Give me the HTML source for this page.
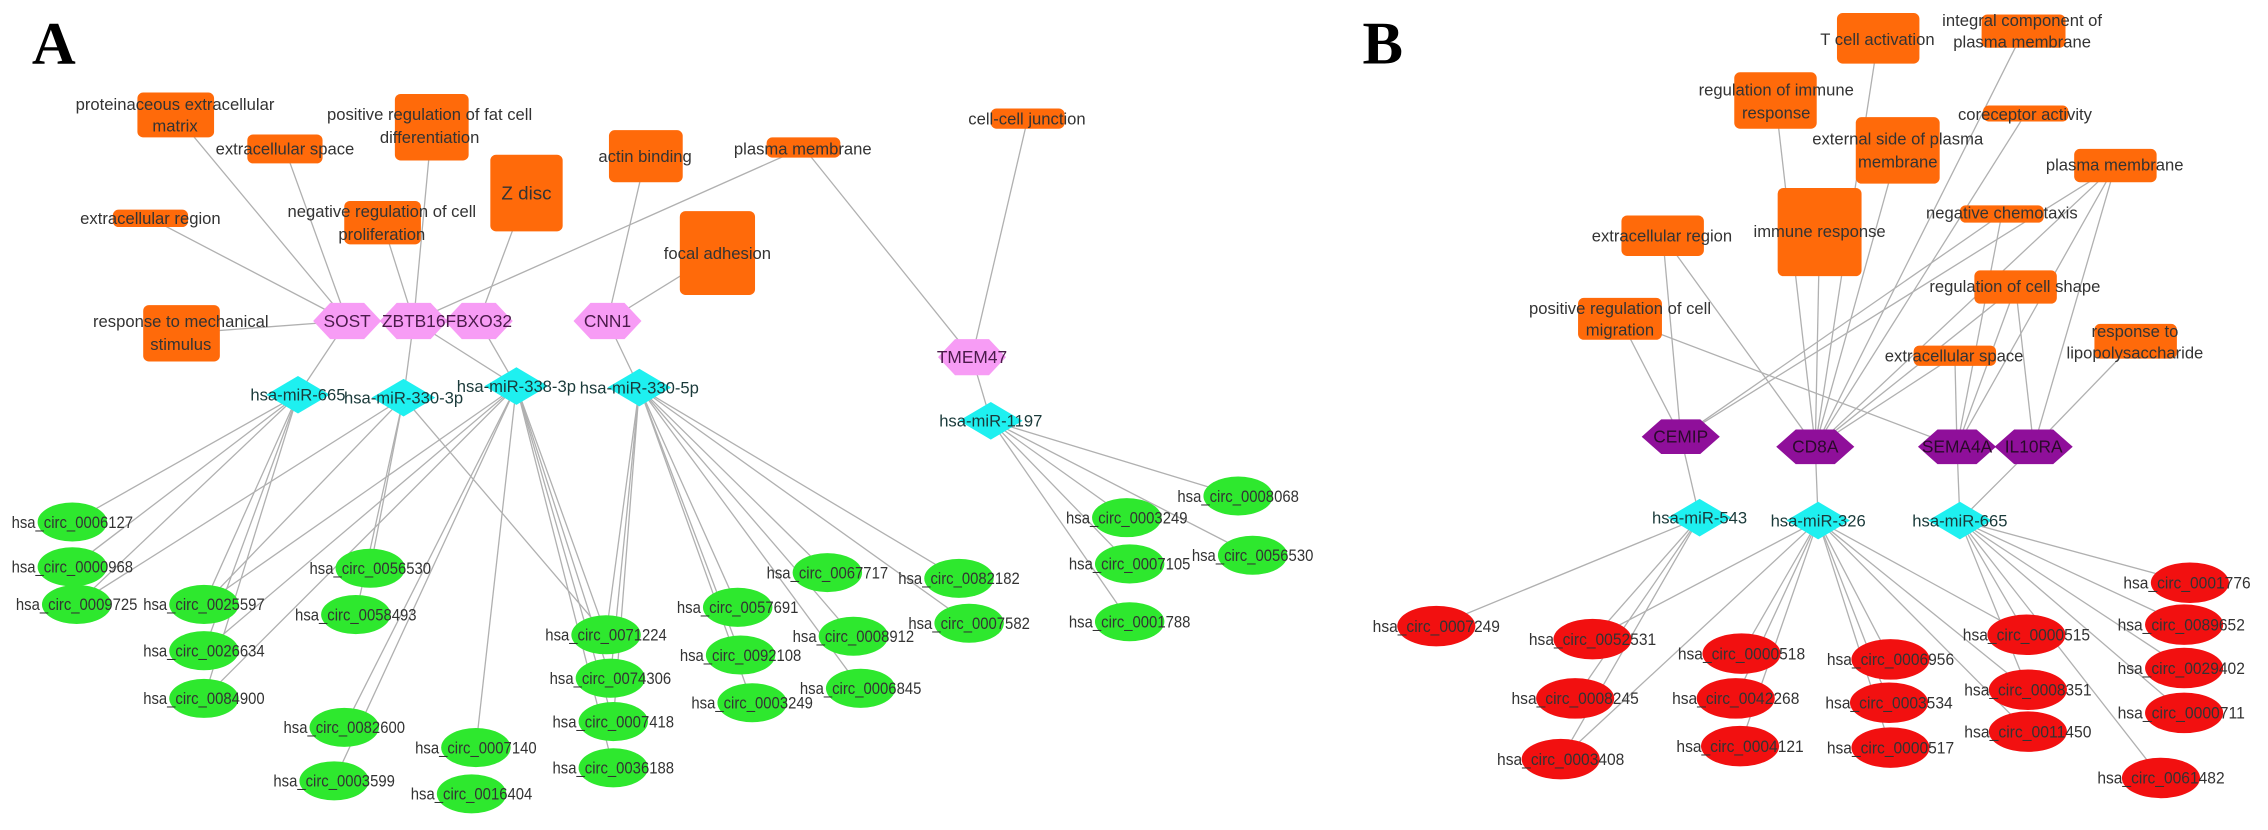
<!DOCTYPE html>
<html><head><meta charset="utf-8"><style>
html,body{margin:0;padding:0;background:#fff;}
svg{display:block;}
text{font-family:"Liberation Sans Narrow","Liberation Sans",sans-serif;fill:#333;}
.c{font-size:11.5px;text-anchor:middle;}
.g{font-size:11.5px;text-anchor:middle;}
.gn{font-size:12px;text-anchor:middle;fill:#4a1a4a;}
.gp{font-size:12px;text-anchor:middle;fill:#2a0a2a;}
.m{font-size:11.5px;text-anchor:middle;fill:#1a3a3a;}
.L{font-family:"Liberation Serif",serif;font-size:42px;font-weight:bold;fill:#000;}
</style></head><body>
<svg id="s" width="2268" height="830" viewBox="0 0 1568 574" preserveAspectRatio="none" xmlns="http://www.w3.org/2000/svg">
<g id="lines" stroke="#b0b0b0" stroke-width="0.9" fill="none"></g>
<g id="shapes"></g>
<g>
<text class="L" x="22" y="44">A</text>
<text class="L" x="942" y="44">B</text>

<text class="g" x="121" y="76">proteinaceous extracellular</text>
<text class="g" x="121" y="91">matrix</text>
<text class="g" x="197" y="107">extracellular space</text>
<text class="g" x="297" y="83">positive regulation of fat cell</text>
<text class="g" x="297" y="99">differentiation</text>
<text class="g" x="364" y="138" style="font-size:13px">Z disc</text>
<text class="g" x="446" y="112">actin binding</text>
<text class="g" x="555" y="107">plasma membrane</text>
<text class="g" x="710" y="86">cell-cell junction</text>
<text class="g" x="104" y="155">extracellular region</text>
<text class="g" x="264" y="150">negative regulation of cell</text>
<text class="g" x="264" y="166">proliferation</text>
<text class="g" x="496" y="179">focal adhesion</text>
<text class="g" x="125" y="226">response to mechanical</text>
<text class="g" x="125" y="242">stimulus</text>

<text class="gn" x="240" y="226">SOST</text>
<text class="gn" x="286" y="226">ZBTB16</text>
<text class="gn" x="331" y="226">FBXO32</text>
<text class="gn" x="420" y="226">CNN1</text>
<text class="gn" x="672" y="251">TMEM47</text>

<text class="m" x="206" y="277">hsa-miR-665</text>
<text class="m" x="279" y="279">hsa-miR-330-3p</text>
<text class="m" x="357" y="271">hsa-miR-338-3p</text>
<text class="m" x="442" y="272">hsa-miR-330-5p</text>
<text class="m" x="685" y="295">hsa-miR-1197</text>

<text class="c" x="50" y="365" textLength="84" lengthAdjust="spacingAndGlyphs">hsa_circ_0006127</text>
<text class="c" x="50" y="396" textLength="84" lengthAdjust="spacingAndGlyphs">hsa_circ_0000968</text>
<text class="c" x="53" y="422" textLength="84" lengthAdjust="spacingAndGlyphs">hsa_circ_0009725</text>
<text class="c" x="141" y="422" textLength="84" lengthAdjust="spacingAndGlyphs">hsa_circ_0025597</text>
<text class="c" x="141" y="454" textLength="84" lengthAdjust="spacingAndGlyphs">hsa_circ_0026634</text>
<text class="c" x="141" y="487" textLength="84" lengthAdjust="spacingAndGlyphs">hsa_circ_0084900</text>
<text class="c" x="256" y="397" textLength="84" lengthAdjust="spacingAndGlyphs">hsa_circ_0056530</text>
<text class="c" x="246" y="429" textLength="84" lengthAdjust="spacingAndGlyphs">hsa_circ_0058493</text>
<text class="c" x="238" y="507" textLength="84" lengthAdjust="spacingAndGlyphs">hsa_circ_0082600</text>
<text class="c" x="231" y="544" textLength="84" lengthAdjust="spacingAndGlyphs">hsa_circ_0003599</text>
<text class="c" x="329" y="521" textLength="84" lengthAdjust="spacingAndGlyphs">hsa_circ_0007140</text>
<text class="c" x="326" y="553" textLength="84" lengthAdjust="spacingAndGlyphs">hsa_circ_0016404</text>
<text class="c" x="419" y="443" textLength="84" lengthAdjust="spacingAndGlyphs">hsa_circ_0071224</text>
<text class="c" x="422" y="473" textLength="84" lengthAdjust="spacingAndGlyphs">hsa_circ_0074306</text>
<text class="c" x="424" y="503" textLength="84" lengthAdjust="spacingAndGlyphs">hsa_circ_0007418</text>
<text class="c" x="424" y="535" textLength="84" lengthAdjust="spacingAndGlyphs">hsa_circ_0036188</text>
<text class="c" x="510" y="424" textLength="84" lengthAdjust="spacingAndGlyphs">hsa_circ_0057691</text>
<text class="c" x="512" y="457" textLength="84" lengthAdjust="spacingAndGlyphs">hsa_circ_0092108</text>
<text class="c" x="520" y="490" textLength="84" lengthAdjust="spacingAndGlyphs">hsa_circ_0003249</text>
<text class="c" x="572" y="400" textLength="84" lengthAdjust="spacingAndGlyphs">hsa_circ_0067717</text>
<text class="c" x="590" y="444" textLength="84" lengthAdjust="spacingAndGlyphs">hsa_circ_0008912</text>
<text class="c" x="595" y="480" textLength="84" lengthAdjust="spacingAndGlyphs">hsa_circ_0006845</text>
<text class="c" x="663" y="404" textLength="84" lengthAdjust="spacingAndGlyphs">hsa_circ_0082182</text>
<text class="c" x="670" y="435" textLength="84" lengthAdjust="spacingAndGlyphs">hsa_circ_0007582</text>
<text class="c" x="856" y="347" textLength="84" lengthAdjust="spacingAndGlyphs">hsa_circ_0008068</text>
<text class="c" x="779" y="362" textLength="84" lengthAdjust="spacingAndGlyphs">hsa_circ_0003249</text>
<text class="c" x="866" y="388" textLength="84" lengthAdjust="spacingAndGlyphs">hsa_circ_0056530</text>
<text class="c" x="781" y="394" textLength="84" lengthAdjust="spacingAndGlyphs">hsa_circ_0007105</text>
<text class="c" x="781" y="434" textLength="84" lengthAdjust="spacingAndGlyphs">hsa_circ_0001788</text>

<text class="g" x="1298" y="31">T cell activation</text>
<text class="g" x="1398" y="18">integral component of</text>
<text class="g" x="1398" y="33">plasma membrane</text>
<text class="g" x="1228" y="66">regulation of immune</text>
<text class="g" x="1228" y="82">response</text>
<text class="g" x="1400" y="83">coreceptor activity</text>
<text class="g" x="1312" y="100">external side of plasma</text>
<text class="g" x="1312" y="116">membrane</text>
<text class="g" x="1462" y="118">plasma membrane</text>
<text class="g" x="1258" y="164">immune response</text>
<text class="g" x="1149" y="167">extracellular region</text>
<text class="g" x="1384" y="151">negative chemotaxis</text>
<text class="g" x="1393" y="202">regulation of cell shape</text>
<text class="g" x="1120" y="217">positive regulation of cell</text>
<text class="g" x="1120" y="232">migration</text>
<text class="g" x="1476" y="233">response to</text>
<text class="g" x="1476" y="248">lipopolysaccharide</text>
<text class="g" x="1351" y="250">extracellular space</text>

<text class="gp" x="1162" y="306">CEMIP</text>
<text class="gp" x="1255" y="313">CD8A</text>
<text class="gp" x="1353" y="313">SEMA4A</text>
<text class="gp" x="1406" y="313">IL10RA</text>

<text class="m" x="1175" y="362">hsa-miR-543</text>
<text class="m" x="1257" y="364">hsa-miR-326</text>
<text class="m" x="1355" y="364">hsa-miR-665</text>

<text class="c" x="993" y="437" textLength="88" lengthAdjust="spacingAndGlyphs">hsa_circ_0007249</text>
<text class="c" x="1101" y="446" textLength="88" lengthAdjust="spacingAndGlyphs">hsa_circ_0052531</text>
<text class="c" x="1089" y="487" textLength="88" lengthAdjust="spacingAndGlyphs">hsa_circ_0008245</text>
<text class="c" x="1079" y="529" textLength="88" lengthAdjust="spacingAndGlyphs">hsa_circ_0003408</text>
<text class="c" x="1204" y="456" textLength="88" lengthAdjust="spacingAndGlyphs">hsa_circ_0000518</text>
<text class="c" x="1200" y="487" textLength="88" lengthAdjust="spacingAndGlyphs">hsa_circ_0042268</text>
<text class="c" x="1203" y="520" textLength="88" lengthAdjust="spacingAndGlyphs">hsa_circ_0004121</text>
<text class="c" x="1307" y="460" textLength="88" lengthAdjust="spacingAndGlyphs">hsa_circ_0006956</text>
<text class="c" x="1306" y="490" textLength="88" lengthAdjust="spacingAndGlyphs">hsa_circ_0003534</text>
<text class="c" x="1307" y="521" textLength="88" lengthAdjust="spacingAndGlyphs">hsa_circ_0000517</text>
<text class="c" x="1401" y="443" textLength="88" lengthAdjust="spacingAndGlyphs">hsa_circ_0000515</text>
<text class="c" x="1402" y="481" textLength="88" lengthAdjust="spacingAndGlyphs">hsa_circ_0008351</text>
<text class="c" x="1402" y="510" textLength="88" lengthAdjust="spacingAndGlyphs">hsa_circ_0011450</text>
<text class="c" x="1494" y="542" textLength="88" lengthAdjust="spacingAndGlyphs">hsa_circ_0061482</text>
<text class="c" x="1512" y="407" textLength="88" lengthAdjust="spacingAndGlyphs">hsa_circ_0001776</text>
<text class="c" x="1508" y="436" textLength="88" lengthAdjust="spacingAndGlyphs">hsa_circ_0089652</text>
<text class="c" x="1508" y="466" textLength="88" lengthAdjust="spacingAndGlyphs">hsa_circ_0029402</text>
<text class="c" x="1508" y="497" textLength="88" lengthAdjust="spacingAndGlyphs">hsa_circ_0000711</text>
</g>
</svg>
<script>
var NS="http://www.w3.org/2000/svg";
var R={pem:[95,64,53,31],esp:[171,93,52,20],fat:[273,65,51,46],zdisc:[339,107,50,53],actin:[421,90,51,36],pmA:[530,95,51,14],ccj:[685,75,51,14],ereg:[78,145,52,12],neg:[238,139,53,30],focal:[470,146,52,58],resp:[99,211,53,39],
tcell:[1270,9,57,35],integ:[1370,10,58,23],regimm:[1199,50,57,39],corec:[1371,73,59,11],ext:[1283,81,58,46],pmB:[1434,103,57,23],immune:[1229,130,58,61],eregB:[1121,149,57,28],negchem:[1355,142,58,12],cellshape:[1365,187,57,23],migr:[1091,206,58,29],lps:[1448,224,57,24],espB:[1323,239,57,14]};
var H={SOST:[240,222],ZBTB16:[286,222],FBXO32:[331,222],CNN1:[420,222],TMEM47:[672,247]};
var P={CEMIP:[1162,302],CD8A:[1255,309],SEMA4A:[1353,309],IL10RA:[1406,309]};
var D={m665:[206,273],m3303:[279,275],m3383:[357,267],m3305:[442,268],m1197:[685,291],m543:[1175,358],m326:[1257,360],m665B:[1355,360]};
var G={a6127:[50,361],a968:[50,392],a9725:[53,418],a25597:[141,418],a26634:[141,450],a84900:[141,483],a56530:[256,393],a58493:[246,425],a82600:[238,503],a3599:[231,540],a7140:[329,517],a16404:[326,549],a71224:[419,439],a74306:[422,469],a7418:[424,499],a36188:[424,531],a57691:[510,420],a92108:[512,453],a3249:[520,486],a67717:[572,396],a8912:[590,440],a6845:[595,476],a82182:[663,400],a7582:[670,431],
b8068:[856,343],b3249:[779,358],b56530:[866,384],b7105:[781,390],b1788:[781,430]};
var Rd={r7249:[993,433],r52531:[1101,442],r8245:[1089,483],r3408:[1079,525],r518:[1204,452],r42268:[1200,483],r4121:[1203,516],r6956:[1307,456],r3534:[1306,486],r517:[1307,517],r515:[1401,439],r8351:[1402,477],r11450:[1402,506],r61482:[1494,538],r1776:[1514,403],r89652:[1510,432],r29402:[1510,462],r711:[1510,493]};
function pt(k){if(R[k]){var r=R[k];return [r[0]+r[2]/2,r[1]+r[3]/2];}return H[k]||P[k]||D[k]||G[k]||Rd[k];}
var E=[["pem","SOST"],["esp","SOST"],["ereg","SOST"],["resp","SOST"],["fat","ZBTB16"],["neg","ZBTB16"],["pmA","ZBTB16"],["zdisc","FBXO32"],["actin","CNN1"],["focal","CNN1"],["pmA","TMEM47"],["ccj","TMEM47"],
["SOST","m665"],["ZBTB16","m3303"],["ZBTB16","m3383"],["FBXO32","m3383"],["CNN1","m3305"],["TMEM47","m1197"],
["m665","a6127"],["m665","a968"],["m665","a9725"],["m665","a25597"],["m665","a26634"],["m665","a84900"],
["m3303","a25597"],["m3303","a56530"],["m3303","a58493"],["m3303","a71224"],["m3303","a9725"],
["m3383","a26634"],["m3383","a84900"],["m3383","a82600"],["m3383","a3599"],["m3383","a7140"],["m3383","a71224"],["m3383","a74306"],["m3383","a7418"],["m3383","a36188"],["m3383","a25597"],
["m3305","a71224"],["m3305","a74306"],["m3305","a7418"],["m3305","a57691"],["m3305","a92108"],["m3305","a3249"],["m3305","a67717"],["m3305","a8912"],["m3305","a6845"],["m3305","a82182"],["m3305","a7582"],
["m1197","b8068"],["m1197","b3249"],["m1197","b56530"],["m1197","b7105"],["m1197","b1788"],
["eregB","CEMIP"],["migr","CEMIP"],["pmB","CEMIP"],["negchem","CEMIP"],["eregB","CD8A"],["migr","SEMA4A"],
["immune","CD8A"],["regimm","CD8A"],["tcell","CD8A"],["ext","CD8A"],["integ","CD8A"],["corec","CD8A"],["espB","CD8A"],["cellshape","CD8A"],["pmB","CD8A"],
["negchem","SEMA4A"],["cellshape","SEMA4A"],["espB","SEMA4A"],["pmB","SEMA4A"],["pmB","IL10RA"],["lps","IL10RA"],["cellshape","IL10RA"],
["CEMIP","m543"],["CD8A","m326"],["SEMA4A","m665B"],["IL10RA","m665B"],
["m543","r7249"],["m543","r52531"],["m543","r8245"],["m543","r3408"],
["m326","r52531"],["m326","r3408"],["m326","r518"],["m326","r42268"],["m326","r4121"],["m326","r6956"],["m326","r3534"],["m326","r517"],["m326","r515"],["m326","r8351"],["m326","r11450"],
["m665B","r1776"],["m665B","r89652"],["m665B","r29402"],["m665B","r711"],["m665B","r61482"],["m665B","r515"],["m665B","r8351"]];
var lg=document.getElementById("lines"),sg=document.getElementById("shapes");
function el(t,a,p){var e=document.createElementNS(NS,t);for(var k in a)e.setAttribute(k,a[k]);p.appendChild(e);return e;}
E.forEach(function(e){var a=pt(e[0]),b=pt(e[1]);el("line",{x1:a[0],y1:a[1],x2:b[0],y2:b[1]},lg);});
for(var k in R){var r=R[k];el("rect",{x:r[0],y:r[1],width:r[2],height:r[3],rx:4,fill:"#ff6a0a"},sg);}
function hex(c,w,h,f){var x=c[0],y=c[1],a=w/2,q=w/4,b=h/2;el("polygon",{points:[x-a,y,x-q,y-b,x+q,y-b,x+a,y,x+q,y+b,x-q,y+b].join(" "),fill:f},sg);}
for(var k in H)hex(H[k],47,25,"#f79cf5");
for(var k in P)hex(P[k],54,24,"#8f0f9a");
for(var k in D){var c=D[k];el("polygon",{points:[c[0]-22,c[1],c[0],c[1]-13,c[0]+22,c[1],c[0],c[1]+13].join(" "),fill:"#1ef0f0"},sg);}
for(var k in G){var c=G[k];el("ellipse",{cx:c[0],cy:c[1],rx:24,ry:13.5,fill:"#2ee82e"},sg);}
for(var k in Rd){var c=Rd[k];el("ellipse",{cx:c[0],cy:c[1],rx:27,ry:14,fill:"#f21010"},sg);}
</script>
</body></html>
